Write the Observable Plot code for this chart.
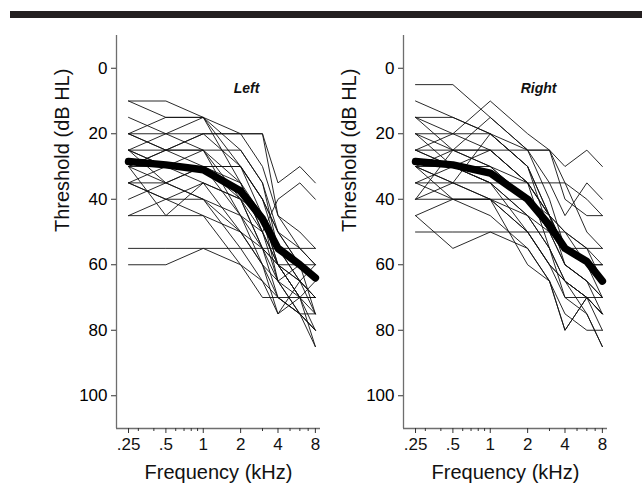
<!DOCTYPE html>
<html>
<head>
<meta charset="utf-8">
<script src="https://cdn.jsdelivr.net/npm/d3@7"></script>
<script src="https://cdn.jsdelivr.net/npm/@observablehq/plot@0.6"></script>
<style>
  html, body { margin: 0; padding: 0; background: #fff; }
  #wrap { position: relative; width: 642px; height: 495px; overflow: hidden; font-family: "Liberation Sans", Arial, sans-serif; }
  #bar { position: absolute; left: 10px; top: 11px; width: 632px; height: 7px; background: #231f20; }
  .panel { position: absolute; top: 0; }
</style>
</head>
<body>
<div id="wrap"><div id="bar"></div></div>
<script>
// Frequencies (kHz) at which thresholds were measured
const freqs = [0.25, 0.5, 1, 2, 3, 4, 6, 8];

// Individual thresholds (dB HL), one row per listener — Left ear
const leftSubjects = [
  [10, 10, 15, 30, 40, 55, 65, 70],
  [10, 15, 15, 25, 35, 50, 60, 75],
  [20, 15, 15, 20, 30, 45, 55, 60],
  [20, 25, 20, 20, 20, 45, 50, 55],
  [25, 20, 15, 35, 45, 60, 70, 80],
  [25, 25, 25, 25, 35, 55, 65, 75],
  [30, 25, 20, 30, 45, 60, 70, 85],
  [30, 30, 30, 30, 40, 50, 60, 65],
  [25, 30, 35, 40, 45, 65, 75, 85],
  [35, 30, 25, 35, 50, 65, 75, 80],
  [35, 35, 30, 40, 55, 60, 70, 70],
  [40, 35, 30, 45, 55, 70, 75, 75],
  [45, 45, 35, 40, 50, 60, 65, 70],
  [45, 40, 35, 50, 60, 70, 70, 65],
  [55, 55, 55, 55, 55, 55, 55, 55],
  [60, 60, 55, 60, 65, 70, 75, 80],
  [20, 20, 20, 20, 20, 35, 30, 35],
  [30, 35, 40, 45, 50, 40, 35, 40],
  [25, 30, 30, 30, 40, 50, 55, 60],
  [35, 40, 40, 50, 60, 75, 70, 70],
  [20, 25, 30, 35, 50, 60, 65, 60],
  [30, 25, 25, 40, 55, 65, 70, 75],
  [30, 45, 45, 50, 55, 60, 60, 60],
  [35, 40, 45, 60, 70, 70, 75, 80],
  [15, 20, 25, 45, 60, 65, 60, 65],
  [25, 35, 40, 55, 65, 75, 65, 70]
];

// Individual thresholds (dB HL) — Right ear
const rightSubjects = [
  [5, 5, 15, 25, 25, 30, 25, 30],
  [15, 15, 20, 25, 35, 45, 35, 40],
  [15, 20, 10, 20, 25, 40, 45, 45],
  [20, 25, 15, 25, 40, 55, 60, 65],
  [25, 25, 25, 25, 25, 35, 40, 45],
  [25, 20, 20, 30, 45, 60, 65, 70],
  [30, 25, 30, 40, 50, 55, 60, 65],
  [35, 35, 35, 35, 35, 35, 50, 55],
  [35, 30, 25, 35, 55, 65, 70, 80],
  [40, 40, 40, 40, 45, 55, 60, 60],
  [40, 35, 20, 30, 50, 60, 65, 75],
  [45, 40, 40, 50, 60, 70, 75, 85],
  [50, 50, 50, 50, 50, 60, 65, 70],
  [45, 55, 50, 55, 65, 75, 80, 80],
  [30, 40, 45, 55, 65, 80, 70, 75],
  [20, 30, 35, 45, 55, 65, 70, 75],
  [35, 40, 40, 45, 50, 50, 55, 60],
  [15, 25, 30, 40, 50, 55, 60, 60],
  [25, 30, 30, 35, 45, 55, 55, 65],
  [30, 35, 40, 50, 60, 65, 70, 70],
  [40, 25, 25, 35, 45, 55, 60, 65],
  [20, 20, 25, 35, 45, 50, 55, 55],
  [30, 30, 35, 45, 55, 70, 70, 75],
  [30, 35, 40, 60, 65, 80, 70, 75],
  [10, 15, 20, 30, 45, 50, 60, 70],
  [25, 30, 35, 50, 60, 65, 75, 85]
];

// Group mean thresholds (thick line)
const leftMean  = [28.5, 29.5, 31, 37.5, 46, 55, 60, 64];
const rightMean = [28.5, 29.5, 32, 40, 48, 55, 59, 65];

// Axis ticks
const yTicks = [0, 20, 40, 60, 80, 100];
const xMajorTicks = [0.25, 0.5, 1, 2, 4, 8];
const xMinorTicks = [0.3, 0.4, 0.6, 0.7, 0.8, 0.9, 3, 5, 6, 7];
const xTickLabels = [".25", ".5", "1", "2", "4", "8"];
const panelTitles = ["Left", "Right"];

const FONT = '"Liberation Sans", Arial, sans-serif';

function toRows(subjects) {
  const rows = [];
  subjects.forEach((s, i) => s.forEach((t, j) => rows.push({id: i, f: freqs[j], t})));
  return rows;
}
function meanRows(m) { return m.map((t, j) => ({f: freqs[j], t})); }
const xLabelRows = xMajorTicks.map((f, i) => ({f, label: xTickLabels[i]}));

function panel(subjects, mean, title, titleDx) {
  return Plot.plot({
    width: 296,
    height: 495,
    marginLeft: 86,
    marginRight: 6,
    marginTop: 35,
    marginBottom: 67,
    style: {background: "transparent", fontFamily: FONT, overflow: "visible"},
    x: {type: "log", domain: [0.2, 8.8]},
    y: {domain: [-10, 110], reverse: true},
    marks: [
      Plot.line(toRows(subjects), {x: "f", y: "t", z: "id", stroke: "#111", strokeWidth: 0.9}),
      Plot.line(meanRows(mean), {x: "f", y: "t", stroke: "#000", strokeWidth: 7.5, strokeLinejoin: "round"}),
      Plot.ruleX([0.2], {stroke: "#6e6e6e", strokeWidth: 1.3}),
      Plot.ruleY([110], {stroke: "#6e6e6e", strokeWidth: 1.3}),
      Plot.axisY({ticks: yTicks, tickSize: 5, tickPadding: 4, fontSize: 17, label: null, stroke: "#333"}),
      Plot.axisX({ticks: xMajorTicks, tickSize: 5, tickFormat: () => "", label: null, stroke: "#333"}),
      Plot.axisX({ticks: xMinorTicks, tickSize: 3, tickFormat: () => "", label: null, stroke: "#333"}),
      Plot.text(xLabelRows, {x: "f", text: "label", frameAnchor: "bottom", lineAnchor: "top", dy: 9, fontSize: 17, fill: "#111"}),
      Plot.text(["Threshold (dB HL)"], {frameAnchor: "left", rotate: -90, dx: -54, fontSize: 20, fill: "#111"}),
      Plot.text(["Frequency (kHz)"], {frameAnchor: "bottom", dy: 50, fontSize: 20, fill: "#111"}),
      Plot.text([title], {frameAnchor: "top", dx: titleDx, dy: 48, fontSize: 14, fontWeight: "bold", fontStyle: "italic", fill: "#111"})
    ]
  });
}

const wrap = document.getElementById("wrap");
const p1 = panel(leftSubjects, leftMean, panelTitles[0], 28);
p1.classList.add("panel"); p1.style.left = "30px";
const p2 = panel(rightSubjects, rightMean, panelTitles[1], 33);
p2.classList.add("panel"); p2.style.left = "317px";
wrap.appendChild(p1);
wrap.appendChild(p2);
</script>
</body>
</html>
